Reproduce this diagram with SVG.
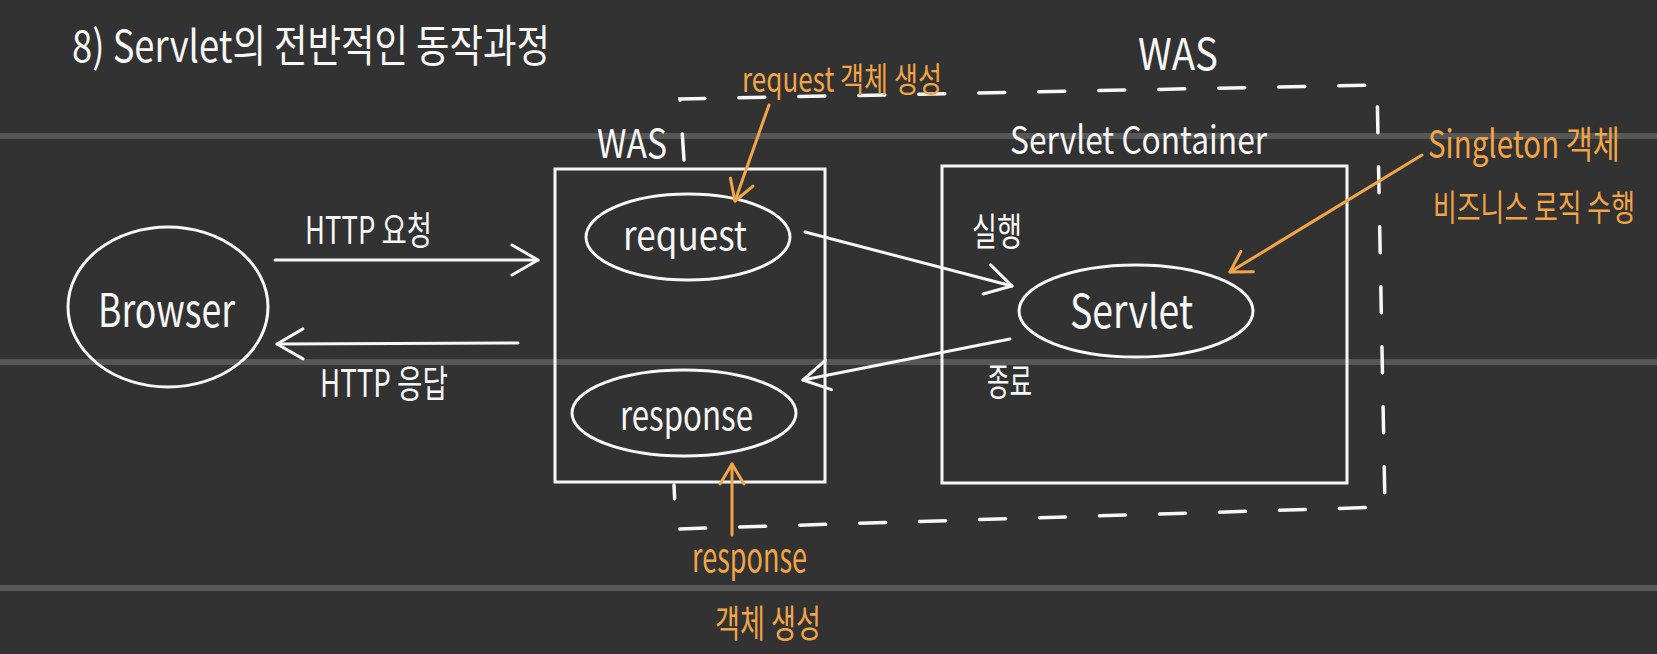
<svg xmlns="http://www.w3.org/2000/svg" width="1657" height="654" viewBox="0 0 1657 654">
<style>
text{font-family:"Noto Sans CJK KR","Noto Sans",sans-serif;fill:#f7f7f7}
.o{fill:#f1a546}
.shape{fill:none;stroke:#f7f7f7;stroke-width:3}
.conn{fill:none;stroke:#f7f7f7;stroke-width:3;stroke-linecap:round}
.oc{fill:none;stroke:#f1a546;stroke-width:3;stroke-linecap:round}
.rule{stroke:#575757;stroke-width:6}
.dash{fill:none;stroke:#f7f7f7;stroke-width:3.5;stroke-linecap:round;stroke-dasharray:26 34}
</style>
<defs>
<marker id="aw" markerUnits="userSpaceOnUse" viewBox="0 0 30 36" refX="28" refY="18" markerWidth="30" markerHeight="36" orient="auto" overflow="visible">
<path d="M2,3 L28,18 L2,33" fill="none" stroke="#f7f7f7" stroke-width="3" stroke-linecap="round" stroke-linejoin="round"/>
</marker>
<marker id="ao" markerUnits="userSpaceOnUse" viewBox="0 0 24 28" refX="22" refY="14" markerWidth="24" markerHeight="28" orient="auto" overflow="visible">
<path d="M2,2 L22,14 L2,26" fill="none" stroke="#f1a546" stroke-width="3" stroke-linecap="round" stroke-linejoin="round"/>
</marker>
</defs>
<rect width="1657" height="654" fill="#323232"/>
<g id="rules">
<line class="rule" x1="0" y1="136" x2="1657" y2="136"/>
<line class="rule" x1="0" y1="362" x2="1657" y2="362"/>
<line class="rule" x1="0" y1="588" x2="1657" y2="588"/>
</g>
<text id="title" x="72" y="62" font-size="44" textLength="478" lengthAdjust="spacingAndGlyphs">8) Servlet의 전반적인 동작과정</text>
<g id="was-outer">
<path class="dash" d="M684 160 L680 99 L1377 85 L1385 507 L676 529 L674 485"/>
<text x="1138" y="70" font-size="44" textLength="80" lengthAdjust="spacingAndGlyphs">WAS</text>
</g>
<g id="browser">
<ellipse class="shape" cx="168" cy="307" rx="100" ry="80"/>
<text x="98" y="327" font-size="46" textLength="137" lengthAdjust="spacingAndGlyphs">Browser</text>
</g>
<g id="was-inner">
<rect class="shape" x="555" y="169" width="270" height="313"/>
<text x="597" y="158" font-size="40" textLength="70" lengthAdjust="spacingAndGlyphs">WAS</text>
</g>
<g id="request">
<ellipse class="shape" cx="688" cy="237" rx="102" ry="43"/>
<text x="623" y="250" font-size="40" textLength="124" lengthAdjust="spacingAndGlyphs">request</text>
</g>
<g id="response">
<ellipse class="shape" cx="684" cy="413" rx="112" ry="43"/>
<text x="620" y="430" font-size="40" textLength="133" lengthAdjust="spacingAndGlyphs">response</text>
</g>
<g id="servlet-container">
<rect class="shape" x="942" y="166" width="405" height="317"/>
<text x="1010" y="154" font-size="38" textLength="257" lengthAdjust="spacingAndGlyphs">Servlet Container</text>
</g>
<g id="servlet">
<ellipse class="shape" cx="1136" cy="311" rx="117" ry="46"/>
<text x="1070" y="328" font-size="46" textLength="123" lengthAdjust="spacingAndGlyphs">Servlet</text>
</g>
<g id="connectors">
<line class="conn" x1="275" y1="260" x2="538" y2="260" marker-end="url(#aw)"/>
<line class="conn" x1="518" y1="343" x2="277" y2="344" marker-end="url(#aw)"/>
<line class="conn" x1="805" y1="232" x2="1012" y2="286" marker-end="url(#aw)"/>
<line class="conn" x1="1010" y1="339" x2="803" y2="380" marker-end="url(#aw)"/>
<line class="oc" x1="769" y1="105" x2="735" y2="201" marker-end="url(#ao)"/>
<line class="oc" x1="1422" y1="155" x2="1230" y2="272" marker-end="url(#ao)"/>
<line class="oc" x1="732" y1="535" x2="732" y2="464" marker-end="url(#ao)"/>
</g>
<g id="labels">
<text x="305" y="244" font-size="38" textLength="127" lengthAdjust="spacingAndGlyphs">HTTP 요청</text>
<text x="320" y="397" font-size="38" textLength="128" lengthAdjust="spacingAndGlyphs">HTTP 응답</text>
<text x="972" y="245" font-size="38" textLength="50" lengthAdjust="spacingAndGlyphs">실행</text>
<text x="987" y="395" font-size="38" textLength="45" lengthAdjust="spacingAndGlyphs">종료</text>
<text class="o" x="742" y="92" font-size="34" textLength="200" lengthAdjust="spacingAndGlyphs">request 객체 생성</text>
<text class="o" transform="translate(1428 158) scale(0.79 1)" x="0" y="0" font-size="38" textLength="243" lengthAdjust="spacingAndGlyphs">Singleton 객체</text>
<text class="o" transform="translate(1433 221) scale(0.66 1)" x="0" y="0" font-size="36" textLength="306" lengthAdjust="spacingAndGlyphs">비즈니스 로직 수행</text>
<text class="o" x="692" y="572" font-size="40" textLength="115" lengthAdjust="spacingAndGlyphs">response</text>
<text class="o" x="715" y="637" font-size="38" textLength="106" lengthAdjust="spacingAndGlyphs">객체 생성</text>
</g>
</svg>
